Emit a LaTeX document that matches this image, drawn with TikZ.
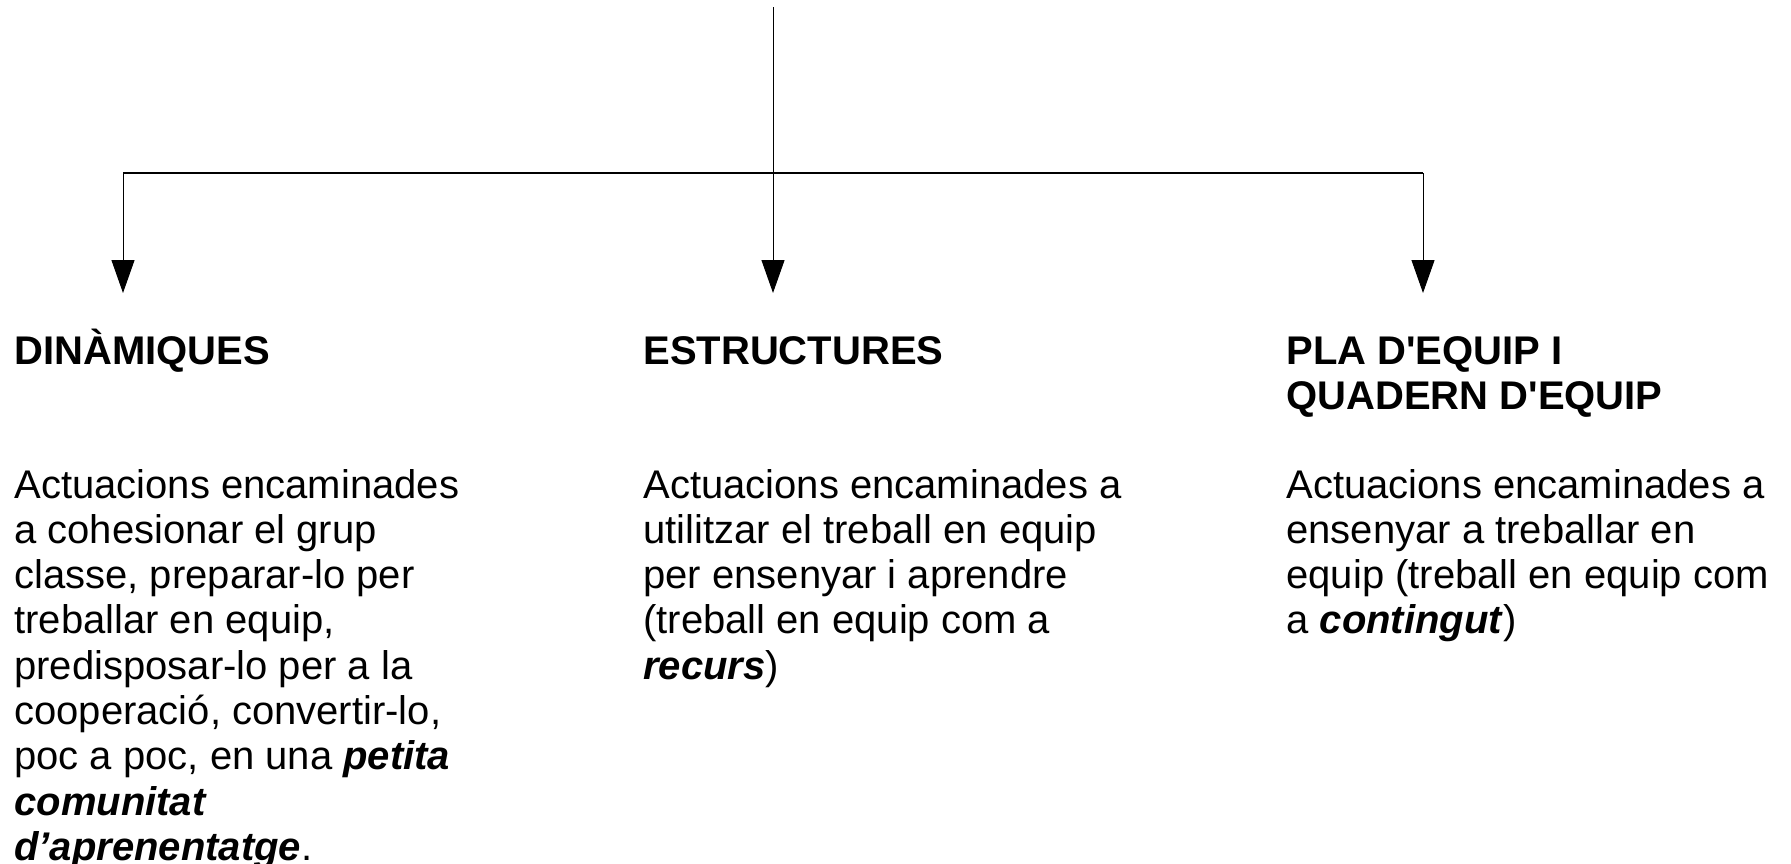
\documentclass[tikz,border=0pt]{standalone}
\usepackage{fontspec}
\setmainfont{Liberation Sans}
\usetikzlibrary{positioning, arrows.meta}

\begin{document}
\begin{tikzpicture}[x=0.5pt, y=-0.5pt,
    link/.style={line width=0.5pt},
    arrow/.style={link, -{Triangle[length=16.5pt, width=11.5pt]}},
    heading/.style={font=\fontsize{20}{22.65}\selectfont\bfseries, align=left, anchor=base west, inner sep=0pt},
    body/.style={font=\fontsize{20}{22.65}\selectfont, align=left, anchor=base west, inner sep=0pt}]
  \useasboundingbox (0,0) rectangle (1791,863);
  \coordinate (top) at (773,7);
  \coordinate (left) at (123,173);
  \coordinate (right) at (1423,173);
  \coordinate (tipdin) at (123,293);
  \coordinate (tipest) at (773,293);
  \coordinate (tippla) at (1423,293);
  \draw[line width=0.8pt] (left) -- (right);
  \draw[arrow] (top) -- (tipest);
  \draw[arrow] (left) -- (tipdin);
  \draw[arrow] (right) -- (tippla);
  % columns (base = last line)
  \node[heading] (din) at (14,364) {DINÀMIQUES};
  \node[heading] (est) at (643,364) {ESTRUCTURES};
  \node[heading] (pla) at (1286,409.3) {PLA D\textquotesingle EQUIP I\\QUADERN D\textquotesingle EQUIP};
  \node[body] (dintext) at (14,860.4) {Actuacions encaminades\\a cohesionar el grup\\classe, preparar-lo per\\treballar en equip,\\predisposar-lo per a la\\cooperació, convertir-lo,\\poc a poc, en una \textbf{\textit{petita}}\\\textbf{\textit{comunitat}}\\\textbf{\textit{d’aprenentatge}}.};
  \node[body] (esttext) at (643,679.2) {Actuacions encaminades a\\utilitzar el treball en equip\\per ensenyar i aprendre\\(treball en equip com a\\\textbf{\textit{recurs}})};
  \node[body] (platext) at (1286,633.9) {Actuacions encaminades a\\ensenyar a treballar en\\equip (treball en equip com\\a \textbf{\textit{contingut}})};
\end{tikzpicture}
\end{document}
